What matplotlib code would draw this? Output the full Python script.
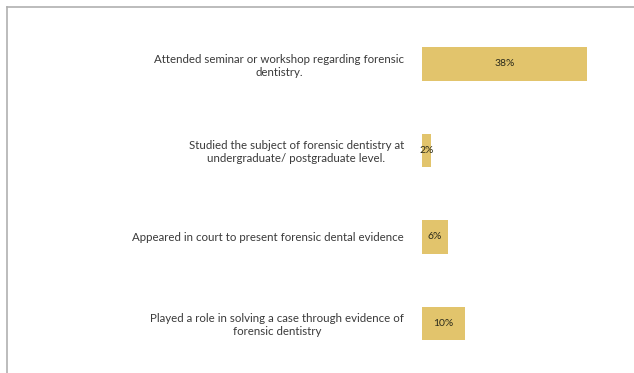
import numpy as np
import matplotlib.pyplot as plt
from matplotlib.lines import Line2D

categories = [
    "Attended seminar or workshop regarding forensic\ndentistry.",
    "Studied the subject of forensic dentistry at\nundergraduate/ postgraduate level.",
    "Appeared in court to present forensic dental evidence",
    "Played a role in solving a case through evidence of\nforensic dentistry",
]
values = [38, 2, 6, 10]
value_labels = ["38%", "2%", "6%", "10%"]

bar_color = '#E2C46C'
text_color = '#3a3a3a'

fig = plt.figure(figsize=(6.34, 3.73), dpi=100)
ax = fig.add_axes([0.6656, 0.0168, 0.2738, 0.9276])

y = np.arange(len(values))
ax.barh(y, values, height=0.39, color=bar_color)

for yi, v, lab in zip(y, values, value_labels):
    ax.text(v / 2, yi, lab, ha='center', va='center', fontsize=7.5,
            color='#2a2a1a', family='Lato')

ax.set_yticks(y)
ax.set_yticklabels(categories, fontsize=8.3, color=text_color, family='Lato',
                   linespacing=1.2)
for t in ax.get_yticklabels():
    t.set_multialignment('center')
ax.tick_params(axis='y', length=0, pad=13)
ax.set_xticks([])
ax.set_xlim(0, 40)
ax.set_ylim(3.5, -0.5)
for s in ax.spines.values():
    s.set_visible(False)

# outer frame (top and left edges visible)
fig.add_artist(Line2D([7 / 634, 1], [1 - 7 / 373, 1 - 7 / 373], color='#b0b0b0', lw=1.2))
fig.add_artist(Line2D([7 / 634, 7 / 634], [0, 1 - 7 / 373], color='#b0b0b0', lw=1.2))

fig.savefig('out.png', dpi=100)
